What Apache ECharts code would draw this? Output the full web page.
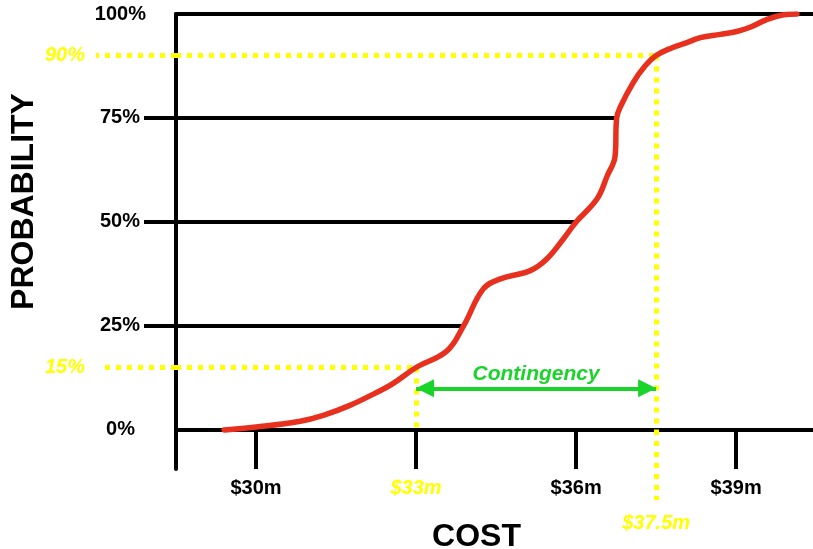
<!DOCTYPE html>
<html>
<head>
<meta charset="utf-8">
<script src="https://cdn.jsdelivr.net/npm/echarts@6/dist/echarts.min.js"></script>
<style>
  html, body { margin: 0; padding: 0; background: #ffffff; }
  #chart { width: 813px; height: 549px; }
</style>
</head>
<body>
<div id="chart"></div>
<script>
// Cumulative cost-risk S-curve with P15 / P90 guides and the contingency band.

const costTicks = [30, 33, 36, 39];          // $m
const probTicks = [0, 25, 50, 75, 100];      // %
const gridLevels = [25, 50, 75];             // % levels drawn across to the curve

// S-curve: cumulative probability (%) against project cost ($m)
const costs = [29.40, 30.00, 30.83, 31.26, 31.76, 32.26, 32.55, 33.00, 33.58, 33.89,
               34.26, 34.58, 35.14, 35.45, 35.76, 36.00, 36.39, 36.58, 36.73, 36.76,
               36.83, 37.07, 37.28, 37.50, 37.80, 38.05, 38.33, 38.70, 39.01, 39.26,
               39.58, 39.89, 40.14];
const probs = [0, 0.7, 2.1, 3.5, 5.9, 9.0, 11.0, 15.0, 19.0, 25.0,
               33.9, 36.3, 38.3, 41.1, 45.9, 50.0, 55.5, 61.0, 65.8, 75.0,
               77.7, 83.5, 87.3, 90.0, 91.9, 93.0, 94.3, 95.1, 95.8, 96.8,
               98.7, 99.8, 100];

const lowCost = 33, lowProb = 15;       // P15
const highCost = 37.5, highProb = 90;   // P90
const contingencyLevel = 10;            // height of the contingency arrow (%)

const FONT = '"Liberation Sans", Arial, Helvetica, sans-serif';
const BLACK = '#000000', YELLOW = '#ffff00', RED = '#e8301e', GREEN = '#1ad42a';
const xMin = 28.5, xMax = 40.44, yMin = -9.4, yMax = 100;
const DOTS = [5, 6];
const HEAD = 18;

// cost at which the curve reaches a given probability
function costAt(level) {
  for (let i = 1; i < probs.length; i++) {
    if (probs[i] >= level) {
      const t = (level - probs[i - 1]) / (probs[i] - probs[i - 1]);
      return costs[i - 1] + t * (costs[i] - costs[i - 1]);
    }
  }
  return costs[costs.length - 1];
}

const labelBase = { fontFamily: FONT, fontSize: 20, fontWeight: 'bold', color: BLACK };
const yellowLabel = { fontFamily: FONT, fontSize: 20, fontWeight: 'bold', fontStyle: 'italic', color: YELLOW };

const chart = echarts.init(document.getElementById('chart'), null, { renderer: 'canvas' });

chart.setOption({
  animation: false,
  backgroundColor: '#ffffff',
  grid: { left: 176, right: 0, top: 14, bottom: 80, containLabel: false, outerBoundsMode: 'none' },
  xAxis: [
    {
      type: 'value', min: xMin, max: xMax, position: 'bottom',
      name: 'COST', nameLocation: 'middle', nameGap: 52,
      nameTextStyle: { fontFamily: FONT, fontSize: 32, fontWeight: 'bold', color: BLACK, padding: [0, 36, 0, 0] },
      axisLine: { show: true, onZero: true, onZeroAxisIndex: 0, lineStyle: { color: BLACK, width: 4 } },
      axisTick: { show: true, customValues: costTicks, length: 39, inside: false, lineStyle: { color: BLACK, width: 4 } },
      axisLabel: {
        customValues: costTicks, margin: 9,
        formatter: v => (v === lowCost ? '{y|$' + v + 'm}' : '{b|$' + v + 'm}'),
        rich: { b: labelBase, y: yellowLabel }
      },
      splitLine: { show: false }
    },
    {
      // 100% line along the top of the plot
      type: 'value', min: xMin, max: xMax, position: 'top',
      axisLine: { show: true, onZero: false, lineStyle: { color: BLACK, width: 4 } },
      axisTick: { show: false }, axisLabel: { show: false }, splitLine: { show: false }
    },
    {
      // P90 cost marker below the axis
      type: 'value', min: xMin, max: xMax, position: 'bottom',
      axisLine: { show: false, onZero: true, onZeroAxisIndex: 0 },
      axisTick: { show: true, customValues: [highCost], length: 70, inside: false,
                  lineStyle: { color: YELLOW, width: 5, type: DOTS } },
      axisLabel: { customValues: [highCost], margin: 44, formatter: v => '$' + v + 'm', ...yellowLabel },
      splitLine: { show: false }
    }
  ],
  yAxis: [
    {
      type: 'value', min: yMin, max: yMax, position: 'left',
      name: 'PROBABILITY', nameLocation: 'middle', nameGap: 136,
      nameTextStyle: { fontFamily: FONT, fontSize: 32, fontWeight: 'bold', color: BLACK, padding: [0, 0, 0, 80] },
      axisLine: { show: true, onZero: false, lineStyle: { color: BLACK, width: 4 } },
      axisTick: { show: true, customValues: gridLevels, length: 32, inside: false, lineStyle: { color: BLACK, width: 4 } },
      axisLabel: {
        customValues: probTicks, margin: 30,
        formatter: v => (v === 100 ? '{t|' + v + '%}' : v === 0 ? '{z|' + v + '%}' : '{m|' + v + '%}'),
        rich: {
          t: labelBase,
          m: Object.assign({}, labelBase, { padding: [0, 6, 0, 0] }),
          z: Object.assign({}, labelBase, { padding: [0, 11, 0, 0] })
        }
      },
      splitLine: { show: false }
    },
    {
      type: 'value', min: yMin, max: yMax, position: 'left',
      axisLine: { show: false, onZero: false },
      axisTick: { show: true, customValues: [lowProb], length: 72, inside: false,
                  lineStyle: { color: YELLOW, width: 5, type: DOTS } },
      axisLabel: { customValues: [lowProb], margin: 91, formatter: v => v + '%', ...yellowLabel },
      splitLine: { show: false }
    },
    {
      type: 'value', min: yMin, max: yMax, position: 'left',
      axisLine: { show: false, onZero: false },
      axisTick: { show: true, customValues: [highProb], length: 80, inside: false,
                  lineStyle: { color: YELLOW, width: 5, type: DOTS } },
      axisLabel: { customValues: [highProb], margin: 91, formatter: v => v + '%', ...yellowLabel },
      splitLine: { show: false }
    }
  ],
  series: [
    {
      name: 'levels', type: 'line', data: [], silent: true,
      markLine: {
        silent: true, z: 1, animation: false, symbol: ['none', 'none'],
        label: { show: false },
        lineStyle: { color: BLACK, width: 4, type: 'solid' },
        data: gridLevels.map(p => [{ coord: [xMin, p] }, { coord: [costAt(p), p] }])
      }
    },
    {
      name: 'guides', type: 'line', data: [], silent: true,
      markLine: {
        silent: true, z: 2, animation: false, symbol: ['none', 'none'],
        label: { show: false },
        lineStyle: { color: YELLOW, width: 5, type: DOTS, cap: 'butt' },
        data: [
          [{ coord: [xMin, lowProb] }, { coord: [lowCost, lowProb] }],
          [{ coord: [lowCost, lowProb] }, { coord: [lowCost, 0] }],
          [{ coord: [xMin, highProb] }, { coord: [highCost, highProb] }],
          [{ coord: [highCost, highProb] }, { coord: [highCost, 0] }]
        ]
      }
    },
    {
      name: 'contingency', type: 'line', data: [], silent: true,
      markLine: {
        silent: true, z: 4, animation: false,
        symbol: ['triangle', 'triangle'], symbolSize: HEAD,
        symbolOffset: [[0, HEAD / 2], [0, HEAD / 2]],
        lineStyle: { color: GREEN, width: 4, type: 'solid' },
        itemStyle: { color: GREEN },
        label: {
          show: true, position: 'insideMiddleTop', distance: 4,
          formatter: 'Contingency', fontFamily: FONT, fontSize: 21,
          fontWeight: 'bold', fontStyle: 'italic', color: GREEN
        },
        data: [[{ coord: [lowCost, contingencyLevel] }, { coord: [highCost, contingencyLevel] }]]
      }
    },
    {
      name: 'S-curve', type: 'line', z: 5,
      data: costs.map((c, i) => [c, probs[i]]),
      smooth: 0.4,
      showSymbol: false, symbol: 'none',
      lineStyle: { color: RED, width: 5.5, cap: 'round', join: 'round' }
    }
  ]
});
</script>
</body>
</html>
